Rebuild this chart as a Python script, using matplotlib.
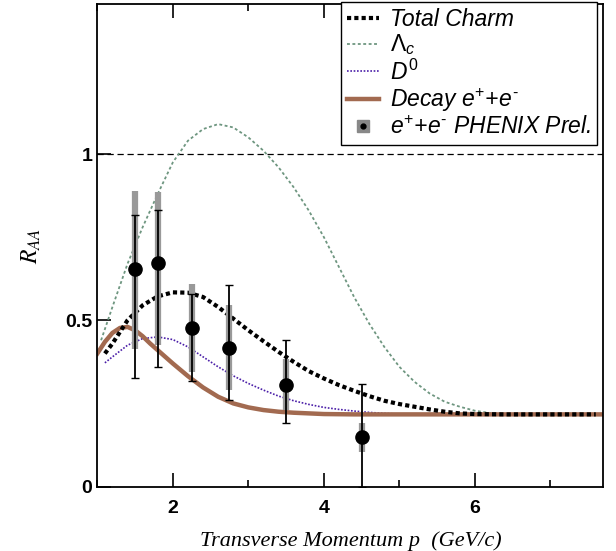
import matplotlib
matplotlib.use('Agg')
import matplotlib.pyplot as plt
from matplotlib.lines import Line2D
from matplotlib.ticker import MultipleLocator

plt.rcParams['font.family'] = ['Liberation Sans', 'DejaVu Sans']
plt.rcParams['mathtext.fontset'] = 'custom'
plt.rcParams['mathtext.rm'] = 'Liberation Sans'
plt.rcParams['mathtext.it'] = 'Liberation Sans:italic'

# model curves
p_tc = [1.1, 1.2, 1.4, 1.6, 1.8, 2.0, 2.2, 2.4, 2.6, 2.8, 3.0, 3.2, 3.4, 3.6, 3.8, 4.0, 4.2, 4.4, 4.6, 4.8, 5.0, 5.2, 5.4, 5.6, 5.8, 6.0, 6.4, 7.6]
tot_charm = [0.40, 0.43, 0.50, 0.545, 0.572, 0.584, 0.583, 0.57, 0.54, 0.505, 0.47, 0.437, 0.405, 0.375, 0.347, 0.325, 0.305, 0.288, 0.272, 0.258, 0.248, 0.24, 0.232, 0.225, 0.22, 0.218, 0.217, 0.217]

p_lc = [1.05, 1.2, 1.4, 1.6, 1.8, 2.0, 2.2, 2.4, 2.6, 2.8, 3.0, 3.2, 3.4, 3.6, 3.8, 4.0, 4.2, 4.4, 4.6, 4.8, 5.0, 5.2, 5.4, 5.6, 5.8, 6.0, 6.2, 6.4, 6.6, 7.6]
lambda_c = [0.44, 0.54, 0.67, 0.78, 0.88, 0.975, 1.04, 1.075, 1.09, 1.08, 1.05, 1.01, 0.96, 0.90, 0.83, 0.75, 0.66, 0.57, 0.49, 0.42, 0.36, 0.315, 0.28, 0.255, 0.24, 0.228, 0.221, 0.218, 0.217, 0.217]

p_d0 = [1.1, 1.2, 1.4, 1.6, 1.8, 2.0, 2.2, 2.4, 2.6, 2.8, 3.0, 3.2, 3.4, 3.6, 3.8, 4.0, 4.2, 4.4, 4.6, 4.8, 5.0, 5.4, 7.6]
d0 = [0.372, 0.39, 0.425, 0.445, 0.45, 0.442, 0.42, 0.39, 0.36, 0.333, 0.31, 0.29, 0.272, 0.258, 0.247, 0.238, 0.232, 0.227, 0.223, 0.22, 0.218, 0.217, 0.217]

p_dec = [1.0, 1.1, 1.2, 1.3, 1.4, 1.5, 1.6, 1.7, 1.8, 2.0, 2.2, 2.4, 2.6, 2.8, 3.0, 3.2, 3.4, 3.6, 3.8, 4.0, 4.4, 7.7]
decay = [0.40, 0.435, 0.462, 0.477, 0.48, 0.47, 0.452, 0.43, 0.41, 0.37, 0.332, 0.298, 0.27, 0.25, 0.238, 0.23, 0.225, 0.222, 0.22, 0.218, 0.217, 0.217]

# PHENIX preliminary points
p_data = [1.5, 1.8, 2.25, 2.75, 3.5, 4.5]
raa = [0.653, 0.672, 0.477, 0.417, 0.305, 0.148]
stat_lo = [0.326, 0.36, 0.318, 0.26, 0.19, 0.0]
stat_hi = [0.817, 0.832, 0.578, 0.605, 0.442, 0.308]
sys_lo = [0.415, 0.425, 0.345, 0.29, 0.23, 0.105]
sys_hi = [0.89, 0.886, 0.61, 0.547, 0.385, 0.19]

fig = plt.figure(figsize=(6.16, 5.51), dpi=100)
ax = fig.add_axes([0.158, 0.117, 0.8214, 0.875])

ax.axhline(1.0, color='black', lw=0.9, ls=(0, (5, 3)))

ax.plot(p_lc, lambda_c, color='#6e9680', lw=1.3, ls=(0, (1.6, 1.4)), label=r'$\Lambda_c$')
ax.plot(p_d0, d0, color='#4b1fa8', lw=1.2, ls=(0, (1, 1)), label=r'$D^0$')
ax.plot(p_dec, decay, color='#a26a50', lw=3.2, label=r'Decay $e^{+}$+$e^{\text{-}}$')
ax.plot(p_tc, tot_charm, color='black', lw=3.0, ls=(0, (1, 0.75)), label='Total Charm')

for x, lo, hi in zip(p_data, sys_lo, sys_hi):
    ax.plot([x, x], [lo, hi], color='#999999', lw=4.5, solid_capstyle='butt', zorder=3)
yerr = [[r - lo for r, lo in zip(raa, stat_lo)], [hi - r for r, hi in zip(raa, stat_hi)]]
ax.errorbar(p_data, raa, yerr=yerr, fmt='o', color='black', ms=9.5, elinewidth=1.3,
            capsize=3, capthick=1, zorder=4)

ax.set_xlim(1.0, 7.7)
ax.set_ylim(0, 1.45)
ax.xaxis.set_major_locator(MultipleLocator(2))
ax.xaxis.set_minor_locator(MultipleLocator(1))
ax.set_yticks([0, 0.5, 1])
ax.set_yticklabels(['0', '0.5', '1'])
ax.tick_params(direction='in', which='both', top=True, labelsize=14, width=1.2)
ax.tick_params(which='major', length=10)
ax.tick_params(which='minor', length=5)
ax.tick_params(axis='x', pad=10)
for lab in ax.get_xticklabels() + ax.get_yticklabels():
    lab.set_fontweight('bold')
for sp in ax.spines.values():
    sp.set_linewidth(1.3)

ax.set_xlabel('Transverse Momentum p  (GeV/c)', family=['Liberation Serif'], style='italic',
              fontsize=16, labelpad=10)
ax.set_ylabel(r'$R_{AA}$', fontsize=17, math_fontfamily='stix', labelpad=16)

handles, labels = ax.get_legend_handles_labels()
order = [3, 0, 1, 2]
handles = [handles[i] for i in order]
labels = [labels[i] for i in order]
pt = (Line2D([], [], marker='s', color='#888888', ls='none', ms=9),
      Line2D([], [], marker='o', color='black', ls='none', ms=3.5))
handles.append(pt)
labels.append(r'$e^{+}$+$e^{\text{-}}$ PHENIX Prel.')
leg = ax.legend(handles, labels, loc='upper right', bbox_to_anchor=(597 / 616, 1 - 2 / 551),
                bbox_transform=fig.transFigure, borderaxespad=0, fancybox=False,
                edgecolor='black', framealpha=1, handlelength=1.4, handletextpad=0.5,
                borderpad=0.25, labelspacing=0.08, prop={'style': 'italic', 'size': 16.5})
leg.get_frame().set_linewidth(1.0)

plt.savefig('out.png', dpi=100)
